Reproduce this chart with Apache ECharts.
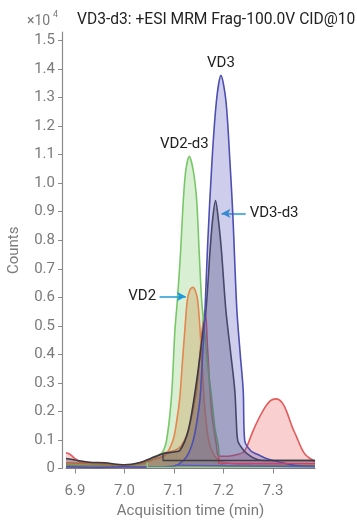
<!DOCTYPE html>
<html>
<head>
<meta charset="utf-8">
<script src="https://cdn.jsdelivr.net/npm/echarts@6/dist/echarts.min.js"></script>
<style>
html,body{margin:0;padding:0;background:#fff;}
#chart{width:357px;height:520px;}
</style>
</head>
<body>
<div id="chart"></div>
<script>
// ---- data (time in min, counts in 10^4) ----
var xTicks = [6.9, 7.0, 7.1, 7.2, 7.3];
var titleText = 'VD3-d3: +ESI MRM Frag-100.0V CID@10';

var redVD = [[6.882,0.055],[6.89,0.05],[6.9,0.035],[6.91,0.024],[6.93,0.018],[6.96,0.017],[6.98,0.012],[7.0,0.01],[7.02,0.015],[7.04,0.025],[7.06,0.04],[7.08,0.055],[7.1,0.062],[7.115,0.08],[7.13,0.14],[7.146,0.28],[7.155,0.45],[7.163,0.56],[7.168,0.42],[7.176,0.2],[7.186,0.08],[7.19,0.045],[7.21,0.043],[7.23,0.05],[7.24,0.057],[7.247,0.075],[7.26,0.133],[7.28,0.203],[7.295,0.238],[7.307,0.244],[7.318,0.232],[7.327,0.203],[7.338,0.15],[7.348,0.11],[7.358,0.07],[7.365,0.05],[7.375,0.035],[7.385,0.025]];
var greenVD2d3 = [[6.882,0.012],[6.95,0.01],[7.0,0.01],[7.03,0.014],[7.046,0.022],[7.058,0.04],[7.075,0.053],[7.085,0.098],[7.095,0.25],[7.102,0.484],[7.107,0.59],[7.1135,0.76],[7.119,0.94],[7.124,1.045],[7.131,1.094],[7.139,1.045],[7.146,0.94],[7.151,0.76],[7.156,0.59],[7.162,0.48],[7.169,0.35],[7.176,0.25],[7.183,0.14],[7.19,0.075],[7.193,0.018],[7.22,0.008],[7.3,0.006],[7.385,0.006]];
var orangeVD2 = [[6.882,0.02],[6.95,0.016],[7.0,0.012],[7.04,0.02],[7.065,0.035],[7.082,0.046],[7.098,0.098],[7.106,0.17],[7.112,0.25],[7.117,0.37],[7.122,0.484],[7.127,0.589],[7.132,0.625],[7.138,0.635],[7.143,0.625],[7.148,0.589],[7.153,0.48],[7.158,0.33],[7.163,0.2],[7.17,0.1],[7.18,0.05],[7.195,0.025],[7.23,0.015],[7.3,0.012],[7.385,0.012]];
var darkVD3d3 = [[6.882,0.035],[6.9,0.03],[6.93,0.022],[6.96,0.02],[7.0,0.013],[7.03,0.02],[7.06,0.04],[7.078,0.052],[7.1,0.058],[7.112,0.063],[7.129,0.133],[7.146,0.308],[7.159,0.484],[7.165,0.56],[7.173,0.764],[7.178,0.87],[7.184,0.939],[7.19,0.87],[7.196,0.764],[7.205,0.554],[7.215,0.4],[7.223,0.273],[7.226,0.17],[7.229,0.098],[7.238,0.07],[7.247,0.053],[7.263,0.035],[7.28,0.028],[7.385,0.028]];
var blueVD3 = [[6.882,0.006],[6.95,0.004],[7.0,0.006],[7.05,0.005],[7.1,0.008],[7.119,0.028],[7.13,0.055],[7.139,0.098],[7.147,0.17],[7.153,0.25],[7.158,0.4],[7.162,0.52],[7.168,0.78],[7.177,1.08],[7.186,1.29],[7.195,1.378],[7.205,1.29],[7.213,1.08],[7.219,0.89],[7.227,0.56],[7.234,0.4],[7.24,0.273],[7.243,0.098],[7.255,0.062],[7.267,0.051],[7.285,0.036],[7.3,0.028],[7.325,0.018],[7.348,0.01],[7.385,0.008]];

// integration baselines
var darkBase = [[7.078,0.052],[7.078,0.028],[7.385,0.028]];
var redBase = [[7.19,0.045],[7.19,0.018],[7.385,0.018]];
var blueBase = [[7.102,0.012],[7.102,0.006],[7.385,0.006]];
var greenBase = [[7.046,0.022],[7.046,0.004],[7.385,0.004]];

// annotations
var annVD3 = {text:'VD3', x:7.195, y:1.42};
var annVD2d3 = {text:'VD2-d3', x:7.121, y:1.135};
var annVD3d3 = {text:'VD3-d3', x:7.253, y:0.894, from:7.245, to:7.196};
var annVD2 = {text:'VD2', x:7.064, y:0.603, from:7.071, to:7.124};

var chart = echarts.init(document.getElementById('chart'), null, {renderer:'canvas'});
var FONT = 'Roboto';
var axisGrey = '#8a8a8a';
var labelGrey = '#7a7a7a';

function area(name, data, line, fill, z){
  return {name:name, type:'line', data:data, smooth:0.3, symbol:'none', z:z,
    lineStyle:{color:line, width:1.6}, areaStyle:{color:fill, origin:'start'}, silent:true};
}
function baseLine(data, color, z){
  return {type:'line', data:data, smooth:false, symbol:'none', z:z,
    lineStyle:{color:color, width:1.3}, silent:true};
}

var option = {
  animation:false,
  textStyle:{fontFamily:FONT},
  title:[
    {text:titleText, left:72, top:7, textStyle:{fontFamily:FONT, fontSize:15.6, fontWeight:'normal', color:'#222'}},
    {text:'×10', left:22, top:9, textStyle:{fontFamily:FONT, fontSize:14, fontWeight:'normal', color:labelGrey}},
    {text:'4', left:48, top:5, textStyle:{fontFamily:FONT, fontSize:9, fontWeight:'normal', color:labelGrey}}
  ],
  grid:{left:66, right:42, top:32, bottom:51.5, containLabel:false, outerBoundsMode:'none'},
  xAxis:{type:'value', min:6.882, max:7.385, offset:8.5,
    axisLine:{show:true, lineStyle:{color:axisGrey, width:1.2}},
    axisTick:{show:true, length:5, lineStyle:{color:axisGrey}, customValues:xTicks},
    axisLabel:{customValues:xTicks, color:labelGrey, fontSize:15, fontFamily:FONT, margin:7,
      formatter:function(v){return v.toFixed(1);}},
    splitLine:{show:false},
    name:'Acquisition time (min)', nameLocation:'middle', nameGap:26,
    nameTextStyle:{color:labelGrey, fontSize:15, fontFamily:FONT}
  },
  yAxis:{type:'value', min:0, max:1.53, interval:0.1, offset:4,
    axisLine:{show:true, lineStyle:{color:axisGrey, width:1.2}},
    axisTick:{show:true, length:4, lineStyle:{color:axisGrey}},
    axisLabel:{color:labelGrey, fontSize:15, fontFamily:FONT, margin:7, showMaxLabel:false,
      formatter:function(v){ if (v > 1.501) return ''; return v===0?'0':v.toFixed(1);}},
    splitLine:{show:false},
    name:'Counts', nameLocation:'middle', nameGap:40,
    nameTextStyle:{color:labelGrey, fontSize:15, fontFamily:FONT}
  },
  series:[
    area('red', redVD, '#e45b5b', 'rgba(238,105,105,0.45)', 1),
    area('VD2-d3', greenVD2d3, '#78c869', 'rgba(125,200,105,0.42)', 2),
    area('VD2', orangeVD2, '#e5864f', 'rgba(205,140,60,0.42)', 3),
    area('VD3-d3', darkVD3d3, '#3a3a44', 'rgba(45,40,60,0.42)', 4),
    area('VD3', blueVD3, '#4e4fb0', 'rgba(100,100,195,0.45)', 5),
    baseLine(greenBase, '#8fd08a', 6),
    baseLine(blueBase, '#5a5ac0', 6),
    baseLine(redBase, '#d0406a', 6),
    baseLine(darkBase, '#3e3e46', 6),
    {type:'line', data:[], silent:true,
      markLine:{silent:true, symbol:['none','arrow'], symbolSize:[7,9],
        lineStyle:{color:'#1e9ad8', width:1.5, type:'solid'}, label:{show:false},
        data:[
          [{coord:[annVD3d3.from, annVD3d3.y]},{coord:[annVD3d3.to, annVD3d3.y]}],
          [{coord:[annVD2.from, annVD2.y]},{coord:[annVD2.to, annVD2.y]}]
        ]},
      markPoint:{silent:true, symbol:'circle', symbolSize:0,
        label:{show:true, color:'#222', fontSize:15, fontFamily:FONT},
        data:[
          {coord:[annVD3.x, annVD3.y], value:annVD3.text, label:{formatter:annVD3.text, position:'inside'}},
          {coord:[annVD2d3.x, annVD2d3.y], value:annVD2d3.text, label:{formatter:annVD2d3.text, position:'inside'}},
          {coord:[annVD3d3.x, annVD3d3.y], value:annVD3d3.text, label:{formatter:annVD3d3.text, position:'right', distance:0}},
          {coord:[annVD2.x, annVD2.y], value:annVD2.text, label:{formatter:annVD2.text, position:'left', distance:0}}
        ]}
    }
  ]
};
chart.setOption(option);
</script>
</body>
</html>
